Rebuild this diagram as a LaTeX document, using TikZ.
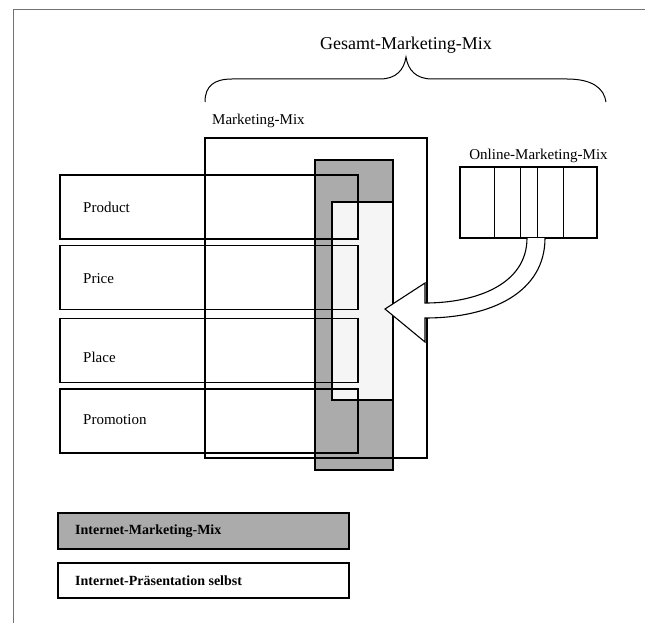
\documentclass[tikz,border=0pt]{standalone}
\usepackage{fontspec}
\setmainfont{Liberation Serif}
\begin{document}
\begin{tikzpicture}[x=1pt,y=-1pt,
  box/.style={draw, line width=1.1pt, inner sep=0pt},
  rowbox/.style={box, minimum width=298pt, minimum height=64pt},
  lbl/.style={font=\fontsize{15}{18}\selectfont, anchor=west, inner sep=0pt},
  toplbl/.style={font=\fontsize{15}{18}\selectfont, inner sep=0pt},
  leglbl/.style={font=\fontsize{14}{17}\selectfont\bfseries, anchor=west, inner sep=0pt},
  darkfill/.style={fill=black!33},
  lightfill/.style={fill=black!4}]
\useasboundingbox (0,0) rectangle (645,623);
% page frame
\draw[black!55, line width=0.8pt] (13,623) -- (13,9) -- (645,9);
% brace
\draw[line width=1pt] (205,102) .. controls (205,86) and (214,79) .. (232,79)
  -- (380,79) .. controls (396,79) and (404,70) .. (406,57)
  .. controls (408,70) and (416,79) .. (432,79)
  -- (567,79) .. controls (592,79) and (604,88) .. (606,102);
\node[font=\fontsize{18}{21}\selectfont, inner sep=0pt] (gesamt) at (406,45) {Gesamt-Marketing-Mix};
% marketing mix label
\node[toplbl, anchor=west] (mmlbl) at (212,121) {Marketing-Mix};
% internet marketing mix column
\node[box, darkfill, minimum width=78pt, minimum height=310pt] (imm) at (354,315) {};
\node[box, lightfill, minimum width=61pt, minimum height=198pt] (pres) at (362.5,301) {};
% rows
\node[rowbox] (product) at (209,207) {};
\node[rowbox] (price) at (209,277.5) {};
\node[rowbox] (place) at (209,350.5) {};
\node[rowbox] (promotion) at (209,421) {};
\node[lbl] (tproduct) at (83,207) {Product};
\node[lbl] (tprice) at (83,279) {Price};
\node[lbl] (tplace) at (83,357) {Place};
\node[lbl] (tpromotion) at (83,420) {Promotion};
% marketing mix box
\node[box, minimum width=222pt, minimum height=320pt] (mm) at (316,298) {};
% online marketing mix
\node[toplbl] (omlbl) at (538.5,156) {Online-Marketing-Mix};
\node[box, minimum width=137pt, minimum height=71pt] (om) at (528.5,202.5) {};
\draw[line width=1pt] (494,167) -- (494,238) (520,167) -- (520,238)
  (537,167) -- (537,238) (563,167) -- (563,238);
% block arrow
\coordinate (a1) at (527,238);
\coordinate (a2) at (545,238);
\draw[line width=1.1pt, fill=white] (a1) .. controls (527,285) and (475,303) .. (425,303)
  -- (425,283) -- (385,309) -- (425,342) -- (425,318)
  .. controls (492,318) and (545,292) .. (a2);
% legend
\node[box, darkfill, minimum width=291pt, minimum height=36pt] (legimm) at (203.5,531) {};
\node[leglbl] (tlegimm) at (75,531) {Internet-Marketing-Mix};
\node[box, minimum width=291pt, minimum height=35pt] (legpres) at (203.5,580.5) {};
\node[leglbl] (tlegpres) at (75,580.5) {Internet-Präsentation selbst};
\end{tikzpicture}
\end{document}
